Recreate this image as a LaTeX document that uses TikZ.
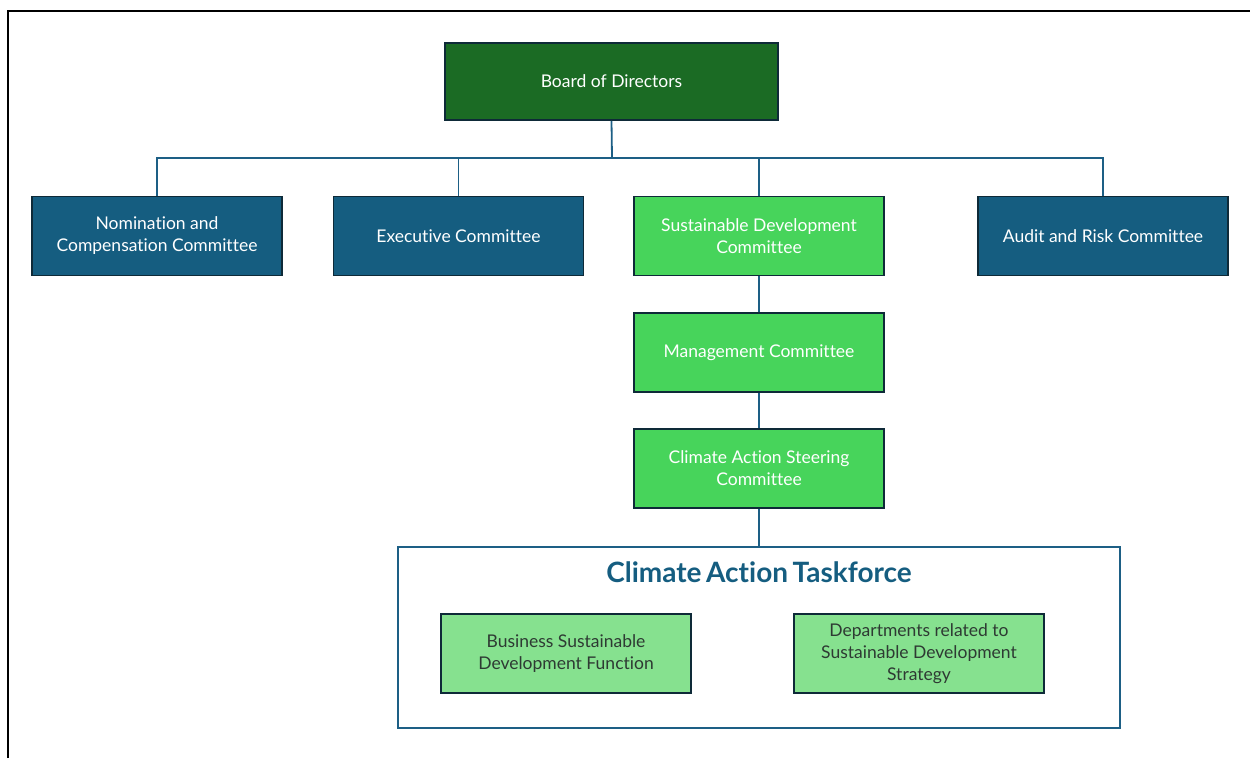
\documentclass[tikz,border=0pt]{standalone}
\usepackage{fontspec}
\setmainfont{Lato}[RawFeature=-liga]
\newcommand{\tightwords}{\spaceskip=0.16em\relax}
\begin{document}
\begin{tikzpicture}[x=1pt,y=-1pt,
  every node/.style={align=center, font=\fontsize{17.5}{22}\selectfont},
  boxbase/.style={draw=navyedge, line width=1.6pt, minimum width=250pt, minimum height=79pt, inner sep=2pt},
  boardbox/.style={boxbase, fill=boardgreen, text=white, minimum width=333pt, minimum height=77pt},
  bluebox/.style={boxbase, fill=comblue, text=white},
  greenbox/.style={boxbase, fill=sdgreen, text=white},
  lightbox/.style={boxbase, fill=lightgreen, text=darktext},
  link/.style={draw=linkblue, line width=1.8pt},
]
\definecolor{boardgreen}{HTML}{1B6B24}
\definecolor{navyedge}{HTML}{0E2A38}
\definecolor{comblue}{HTML}{155D80}
\definecolor{sdgreen}{HTML}{47D45B}
\definecolor{lightgreen}{HTML}{86E18F}
\definecolor{darktext}{HTML}{2E3A33}
\definecolor{linkblue}{HTML}{1D5F85}

\useasboundingbox (0,0) rectangle (1250,758);
% page frame
\draw[line width=2.2pt] (8,758) -- (8,11) -- (1250,11);

% boxes
\node[boardbox] (board) at (611.5,81.5) {Board of Directors};
\node[bluebox] (nom) at (157,236) {Nomination and\\Compensation Committee};
\node[bluebox] (exec) at (458.5,236) {Executive Committee};
\node[greenbox] (sdc) at (759,236) {Sustainable Development\\Committee};
\node[bluebox] (audit) at (1103,236) {Audit and Risk Committee};
\node[greenbox] (mgmt) at (759,352.5) {Management Committee};
\node[greenbox] (casc) at (759,468.5) {Climate Action Steering\\Committee};

% taskforce group
\node[draw=linkblue, line width=1.8pt, minimum width=722pt, minimum height=181pt, inner sep=0pt] (task) at (759,637.5) {};
\node[text=comblue, font=\fontsize{28}{32}\selectfont\bfseries] (tasktitle) at (759,572) {\tightwords Climate Action Taskforce};
\node[lightbox] (bus) at (566,653.5) {Business Sustainable\\Development Function};
\node[lightbox] (dept) at (919,653.5) {Departments related to\\Sustainable Development\\Strategy};

% connectors
\coordinate (bus0) at (612,158);
\draw[link] (board.south) -- (bus0);
\draw[link] (nom.north) |- (bus0);
\draw[link] (audit.north) |- (bus0);
\draw[link] (exec.north) -- (exec.north |- bus0);
\draw[link] (sdc.north) -- (sdc.north |- bus0);
\draw[link] (sdc.south) -- (mgmt.north);
\draw[link] (mgmt.south) -- (casc.north);
\draw[link] (casc.south) -- (casc.south |- task.north);
\end{tikzpicture}
\end{document}
